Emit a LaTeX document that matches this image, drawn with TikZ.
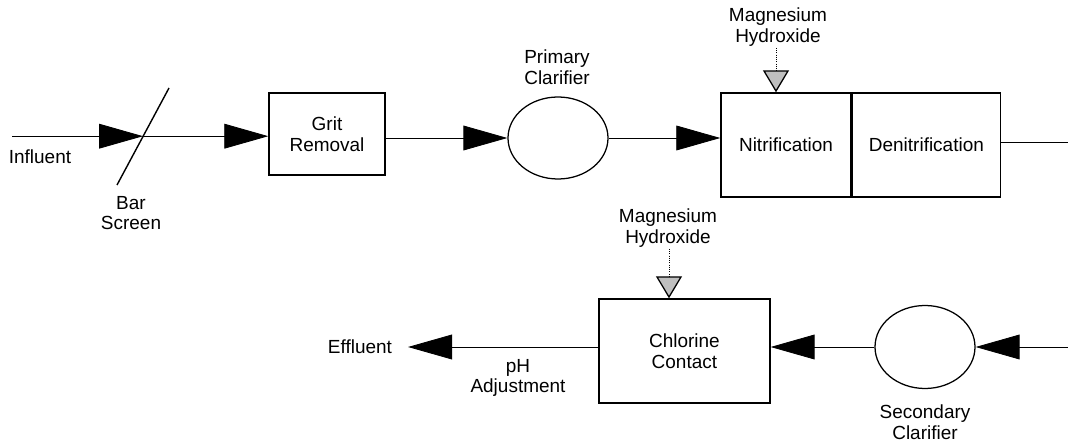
\documentclass[tikz,border=0pt]{standalone}
\usepackage{fontspec}
\setmainfont{Liberation Sans}
\usetikzlibrary{arrows.meta,shapes.geometric}

\begin{document}
\begin{tikzpicture}[
    font=\fontsize{13.5}{14.6}\selectfont,
    unit/.style={rectangle, draw, line width=1pt, align=center, inner sep=0pt},
    tank/.style={ellipse, draw, line width=0.9pt, minimum width=2.5cm, minimum height=2.05cm, inner sep=0pt},
    label/.style={align=center, inner sep=1pt},
    flow/.style={line width=0.6pt, -{Triangle[length=1.1cm, width=0.62cm]}},
    dose/.style={densely dotted, line width=0.6pt, -{Triangle[length=0.55cm, width=0.65cm, fill=black!25, line width=0.9pt]}}
]
\useasboundingbox (0, 0) rectangle (26.7, 11.025);

% Top row: headworks and biological treatment
\coordinate (influent) at (0.3, 7.62);
\coordinate (screen) at (3.575, 7.62);
\coordinate (screentop) at (4.225, 8.825);
\coordinate (screenbot) at (2.925, 6.4);
\node[unit, minimum width=2.9cm, minimum height=2.05cm] (grit) at (8.175, 7.675) {Grit\\Removal};
\node[tank] (primary) at (13.95, 7.575) {};
\node[unit, minimum width=3.25cm, minimum height=2.6cm] (nitr) at (19.65, 7.4) {Nitrification};
\node[unit, minimum width=3.7cm, minimum height=2.6cm, anchor=west] (denitr) at (nitr.east) {Denitrification};
\coordinate (toclar) at (26.7, 7.475);

% Top row labels
\node[label] (influentlbl) at (1.0, 7.1) {Influent};
\node[label] (screenlbl) at (3.275, 5.7) {Bar\\Screen};
\node[label] (primarylbl) at (13.925, 9.35) {Primary\\Clarifier};
\node[label] (mgtop) at (19.45, 10.35) {Magnesium\\Hydroxide};

% Bottom row: clarification and disinfection
\node[unit, minimum width=4.275cm, minimum height=2.6cm] (chlor) at (17.11, 2.25) {Chlorine\\Contact};
\node[tank, minimum height=2.075cm] (secondary) at (23.125, 2.35) {};
\coordinate (fromaer) at (26.7, 2.35);
\coordinate (effluent) at (10.2, 2.35);

% Bottom row labels
\node[label] (effluentlbl) at (9.0, 2.35) {Effluent};
\node[label] (phlbl) at (12.95, 1.575) {pH\\Adjustment};
\node[label] (secondarylbl) at (23.125, 0.475) {Secondary\\Clarifier};
\node[label] (mgbot) at (16.7, 5.325) {Magnesium\\Hydroxide};

% Bar screen
\draw[line width=1pt] (screenbot) -- (screentop);

% Flow arrows - top row
\draw[flow] (influent) -- (screen);
\draw[flow] (screen) -- (screen -| grit.west);
\draw[flow] (grit.east |- primary.west) -- (primary.west);
\draw[flow] (primary.east) -- (primary.east -| nitr.west);
\draw[line width=0.6pt] (denitr.east |- toclar) -- (toclar);

% Flow arrows - bottom row
\draw[flow] (fromaer) -- (secondary.east);
\draw[flow] (secondary.west) -- (secondary.west -| chlor.east);
\draw[flow] (chlor.west |- effluent) -- (effluent);

% Chemical dosing
\draw[dose] (mgtop.south -| 19.4, 0) -- (nitr.north -| 19.4, 0);
\draw[dose] (mgbot.south -| 16.725, 0) -- (chlor.north -| 16.725, 0);

\end{tikzpicture}
\end{document}
